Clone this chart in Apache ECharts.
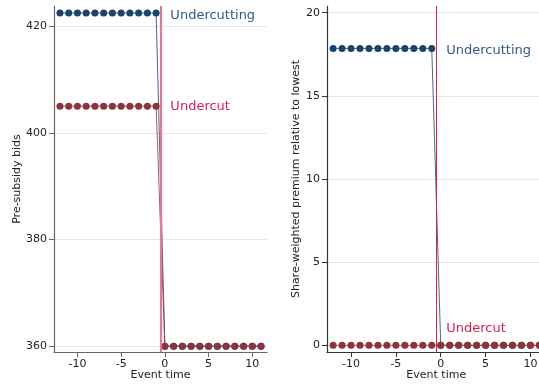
<!DOCTYPE html>
<html>
<head>
<meta charset="utf-8">
<script src="https://cdn.jsdelivr.net/npm/echarts@6/dist/echarts.min.js"></script>
<style>
  html, body { margin: 0; padding: 0; background: #fff; }
  #chart { width: 539px; height: 385px; }
</style>
</head>
<body>
<div id="chart"></div>
<script>
// Event time from -12 to 11
const eventTime = [-12,-11,-10,-9,-8,-7,-6,-5,-4,-3,-2,-1,0,1,2,3,4,5,6,7,8,9,10,11];

// Pre-subsidy bids
const bidsUndercutting = [422.5,422.5,422.5,422.5,422.5,422.5,422.5,422.5,422.5,422.5,422.5,422.5,
                          360,360,360,360,360,360,360,360,360,360,360,360];
const bidsUndercut = [405,405,405,405,405,405,405,405,405,405,405,405,
                      360,360,360,360,360,360,360,360,360,360,360,360];

// Share-weighted premium relative to lowest
const premiumUndercutting = [17.85,17.85,17.85,17.85,17.85,17.85,17.85,17.85,17.85,17.85,17.85,17.85,
                             0,0,0,0,0,0,0,0,0,0,0,0];
const premiumUndercut = [0,0,0,0,0,0,0,0,0,0,0,0,0,0,0,0,0,0,0,0,0,0,0,0];

const eventLine = -0.5;
const xTicks = [-10, -5, 0, 5, 10];
const bidTicks = [360, 380, 400, 420];
const premiumTicks = [0, 5, 10, 15, 20];

const BLUE = '#1b436c';
const RED = '#8c333e';
const BLUE_TXT = '#2e5b89';
const RED_TXT = '#d81e4f';
const FONT = 'DejaVu Sans';

const pairs = ys => eventTime.map((x, i) => [x, ys[i]]);

function xAxis(gridIndex, color) {
  return {
    type: 'value', gridIndex, min: -12.68, max: 11.68,
    name: 'Event time', nameLocation: 'middle', nameGap: 18, nameMoveOverlap: false,
    nameTextStyle: { fontFamily: FONT, fontSize: 11, color: '#222' },
    axisLine: { show: true, onZero: false, lineStyle: { color, width: 1.2 } },
    axisTick: { show: true, length: 5, customValues: xTicks, lineStyle: { color } },
    axisLabel: { customValues: xTicks, fontFamily: FONT, fontSize: 11, color: '#222', margin: 7 },
    splitLine: { show: false }
  };
}
function yAxis(gridIndex, min, max, ticks, name, gap, color) {
  return {
    type: 'value', gridIndex, min, max,
    name, nameLocation: 'middle', nameGap: gap, nameMoveOverlap: false,
    nameTextStyle: { fontFamily: FONT, fontSize: 11, color: '#222' },
    axisLine: { show: true, onZero: false, lineStyle: { color, width: 1.2 } },
    axisTick: { show: true, length: 5, customValues: ticks, lineStyle: { color } },
    axisLabel: { customValues: ticks, fontFamily: FONT, fontSize: 11, color: '#222', margin: 7 },
    splitLine: { show: true, lineStyle: { color: '#e6e6e6', width: 1 } }
  };
}
function dots(name, xi, data, color, extra) {
  return Object.assign({
    name, type: 'line', xAxisIndex: xi, yAxisIndex: xi,
    data, symbol: 'circle', symbolSize: 7, showSymbol: true,
    itemStyle: { color, opacity: 1 },
    lineStyle: { color, width: 1, opacity: 0.8 },
    animation: false, z: 3
  }, extra || {});
}
function textMark(coord, text, color, offset) {
  return {
    coord, symbol: 'rect', symbolSize: 1, value: text,
    itemStyle: { color: 'rgba(0,0,0,0)' },
    label: { show: true, position: 'right', formatter: text, color,
             fontFamily: FONT, fontSize: 13, offset }
  };
}

const chart = echarts.init(document.getElementById('chart'), null, { renderer: 'canvas' });
chart.setOption({
  backgroundColor: '#fff',
  animation: false,
  grid: [
    { left: 54, top: 6, width: 213, bottom: 33, outerBoundsMode: 'none', containLabel: false },
    { left: 327, top: 6, width: 218.5, bottom: 33, outerBoundsMode: 'none', containLabel: false }
  ],
  xAxis: [xAxis(0, '#666'), xAxis(1, '#333')],
  yAxis: [
    yAxis(0, 358.9, 423.8, bidTicks, 'Pre-subsidy bids', 31, '#666'),
    yAxis(1, -0.4, 20.4, premiumTicks, 'Share-weighted premium relative to lowest', 25, '#333')
  ],
  series: [
    dots('Undercutting', 0, pairs(bidsUndercutting), BLUE, {
      markPoint: { silent: true, data: [
        textMark([0, bidsUndercutting[11]], 'Undercutting', BLUE_TXT, [0, 3])
      ] }
    }),
    dots('Undercut', 0, pairs(bidsUndercut), RED, {
      markLine: { symbol: 'none', silent: true, label: { show: false },
        lineStyle: { color: '#e27b91', width: 2.2, type: 'solid', opacity: 1 },
        data: [{ xAxis: eventLine }] },
      markPoint: { silent: true, data: [
        textMark([0, bidsUndercut[11]], 'Undercut', RED_TXT, [0, 0])
      ] }
    }),
    dots('Undercutting', 1, pairs(premiumUndercutting), BLUE, {
      markPoint: { silent: true, data: [
        textMark([0, premiumUndercutting[11]], 'Undercutting', BLUE_TXT, [0, 2])
      ] }
    }),
    dots('Undercut', 1, pairs(premiumUndercut), RED, {
      markLine: { symbol: 'none', silent: true, label: { show: false },
        lineStyle: { color: RED_TXT, width: 1, type: 'solid', opacity: 1 },
        data: [{ xAxis: eventLine }] },
      markPoint: { silent: true, data: [
        textMark([0, premiumUndercut[11]], 'Undercut', RED_TXT, [0, -17])
      ] }
    })
  ]
});
</script>
</body>
</html>
